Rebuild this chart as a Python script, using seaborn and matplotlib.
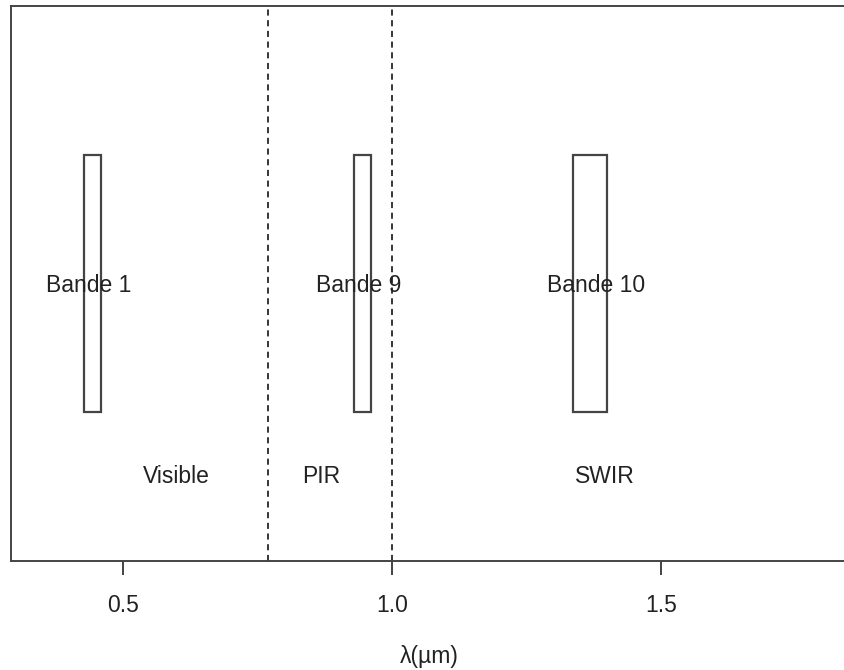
import matplotlib
matplotlib.use("Agg")
import matplotlib.pyplot as plt
import seaborn as sns

# band limits (micrometres)
band_names = ["Bande 1", "Bande 9", "Bande 10"]
band_lo = [0.428, 0.929, 1.336]
band_hi = [0.459, 0.961, 1.400]
band_label_x = [0.437, 0.939, 1.379]

# spectral domains
domain_names = ["Visible", "PIR", "SWIR"]
domain_x = [0.60, 0.868, 1.397]
domain_limits = [0.77, 1.0]

sns.set_style("white")
plt.rcParams["font.family"] = ["Liberation Sans", "DejaVu Sans"]

fig = plt.figure(figsize=(8.44, 6.70), dpi=100)
ax = fig.add_axes([11 / 844, 109 / 670, 837 / 844, 555 / 670])

widths = [h - l for l, h in zip(band_lo, band_hi)]
ax.bar(band_lo, [0.463] * 3, width=widths, bottom=0.268, align="edge",
       fill=False, edgecolor="#444444", linewidth=1.6)

for name, x in zip(band_names, band_label_x):
    ax.text(x, 0.497, name, ha="center", va="center", fontsize=16.5, color="#222222")

for name, x in zip(domain_names, domain_x):
    ax.text(x, 0.152, name, ha="center", va="center", fontsize=16.5, color="#222222")

for x in domain_limits:
    ax.axvline(x, color="black", linestyle=(0, (4, 3)), linewidth=1.1)

ax.set_xlim(0.2924, 1.848)
ax.set_ylim(0, 1)
ax.set_yticks([])
ax.set_xticks([0.5, 1.0, 1.5])
ax.set_xticklabels(["0.5", "1.0", "1.5"], fontsize=16.5, color="#222222")
ax.tick_params(axis="x", direction="out", length=10, width=1.2, pad=14, bottom=True, color="#222222")
ax.set_xlabel("λ(µm)", fontsize=16.5, color="#222222", labelpad=20)

for side in ["left", "top", "bottom"]:
    ax.spines[side].set_color("#444444")
    ax.spines[side].set_linewidth(1.4)
ax.spines["right"].set_visible(False)

fig.savefig("out.png", dpi=100)
